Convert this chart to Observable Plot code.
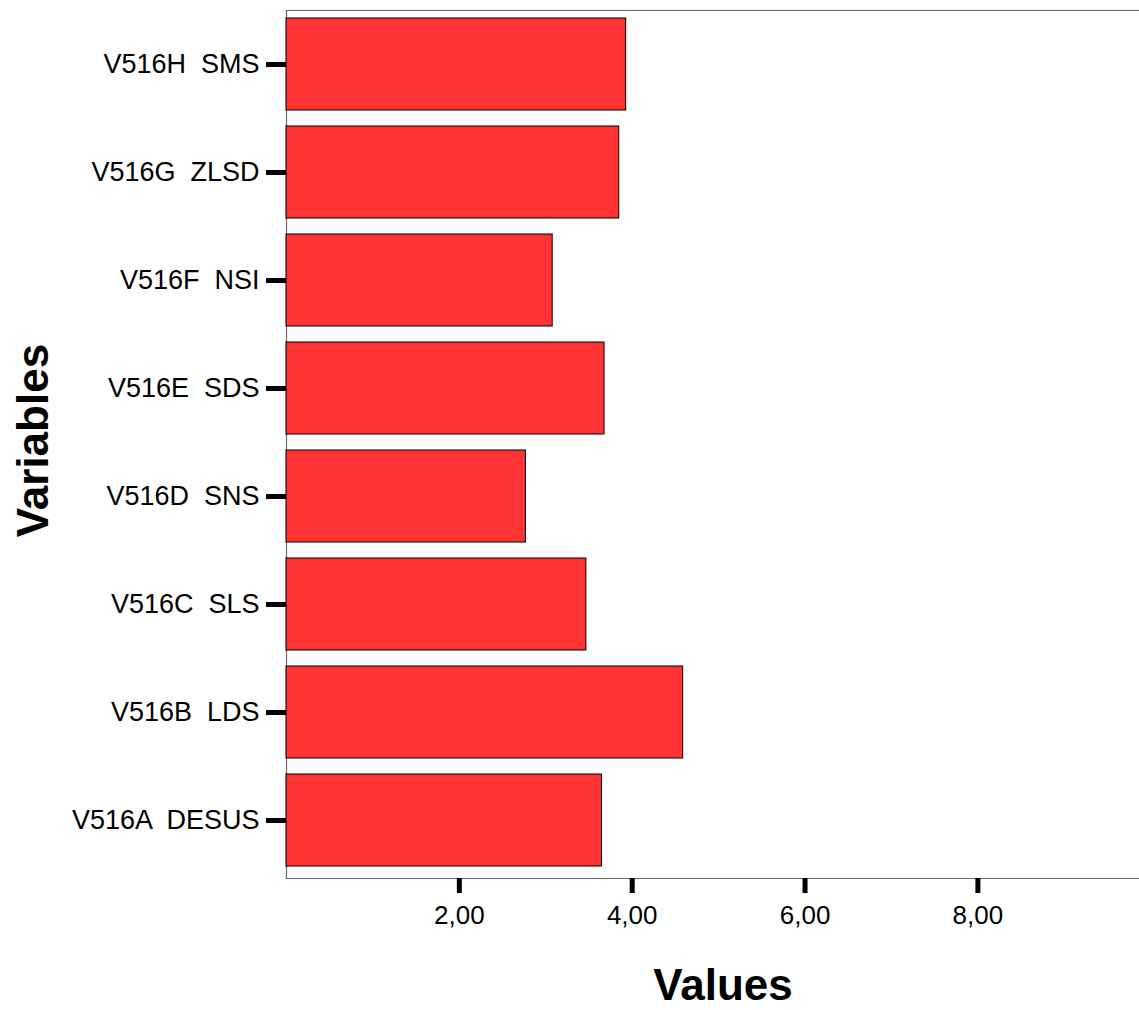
<!DOCTYPE html>
<html>
<head>
<meta charset="utf-8">
<script src="https://cdn.jsdelivr.net/npm/d3@7"></script>
<script src="https://cdn.jsdelivr.net/npm/@observablehq/plot@0.6"></script>
<style>
  html, body { margin: 0; padding: 0; background: #fff; }
  svg text { white-space: pre; }
</style>
</head>
<body>
<div id="chart"></div>
<script>
const categories = ["V516H  SMS", "V516G  ZLSD", "V516F  NSI", "V516E  SDS", "V516D  SNS", "V516C  SLS", "V516B  LDS", "V516A  DESUS"];
const values = [3.93, 3.85, 3.08, 3.68, 2.77, 3.47, 4.59, 3.65];
const xTicks = [2, 4, 6, 8];
const xLabel = "Values";
const yLabel = "Variables";

const data = categories.map((c, i) => ({variable: c, value: values[i]}));
const fmt = d3.format(".2f");

const chart = Plot.plot({
  width: 1139,
  height: 1010,
  marginLeft: 286,
  marginRight: 0,
  marginTop: 10,
  marginBottom: 132,
  style: {fontFamily: "'Liberation Sans', Arial, sans-serif", background: "#fff", color: "#000"},
  x: {domain: [0, 9.87], ticks: xTicks},
  y: {domain: categories, paddingInner: 0.147, paddingOuter: 0.069, align: 0.4},
  marks: [
    Plot.frame({anchor: "top", stroke: "#666", strokeWidth: 1.2}),
    Plot.frame({anchor: "left", stroke: "#666", strokeWidth: 1.2}),
    Plot.frame({anchor: "bottom", stroke: "#666", strokeWidth: 1.2}),
    Plot.barX(data, {x: "value", y: "variable", fill: "#FF3333", stroke: "#000", strokeWidth: 1}),
    Plot.axisY({tickSize: 20, tickPadding: 7, strokeWidth: 5, fontSize: 27, label: null, stroke: "#000", fill: "#000"}),
    Plot.axisX({ticks: xTicks, tickSize: 15, tickPadding: 12, strokeWidth: 5, fontSize: 26, label: null, stroke: "#000", fill: "#000",
      tickFormat: d => fmt(d).replace(".", ",")}),
    Plot.text([yLabel], {text: d => d, frameAnchor: "left", textAnchor: "middle", lineAnchor: "middle", rotate: -90, dx: -253, dy: -4, fontSize: 44, fontWeight: "bold", fill: "#000"}),
    Plot.text([xLabel], {text: d => d, frameAnchor: "bottom", textAnchor: "middle", lineAnchor: "middle", dy: 107, dx: 10, fontSize: 44, fontWeight: "bold", fill: "#000"})
  ]
});
document.getElementById("chart").appendChild(chart);
</script>
</body>
</html>
